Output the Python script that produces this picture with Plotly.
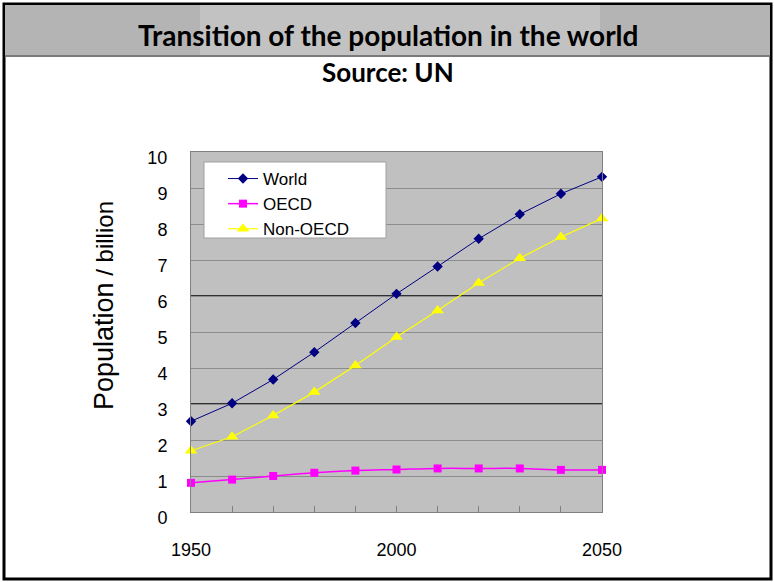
import plotly.graph_objects as go

years = [1950, 1960, 1970, 1980, 1990, 2000, 2010, 2020, 2030, 2040, 2050]
world = [2.52, 3.02, 3.68, 4.44, 5.25, 6.06, 6.82, 7.59, 8.27, 8.84, 9.31]
oecd = [0.81, 0.90, 1.00, 1.09, 1.15, 1.18, 1.21, 1.21, 1.21, 1.17, 1.17]
non_oecd = [1.70, 2.09, 2.68, 3.33, 4.07, 4.86, 5.60, 6.36, 7.05, 7.64, 8.15]
y_ticks = list(range(0, 11))
x_labels = {1950: "1950", 2000: "2000", 2050: "2050"}

W, H = 774, 582
L, R, T, B = 191, 172, 152, 70
PW, PH = W - L - R, H - T - B


def px(x):
    return (x - L) / PW


def py(y):
    return (H - B - y) / PH


fig = go.Figure()
fig.add_trace(go.Scatter(x=years, y=world, name="World", mode="lines+markers",
                         line=dict(color="#000080", width=1),
                         marker=dict(symbol="diamond", size=8, color="#000080"),
                         cliponaxis=False))
fig.add_trace(go.Scatter(x=years, y=oecd, name="OECD", mode="lines+markers",
                         line=dict(color="#ff00ff", width=1.5, shape="spline"),
                         marker=dict(symbol="square", size=8, color="#ff00ff"),
                         cliponaxis=False))
fig.add_trace(go.Scatter(x=years, y=non_oecd, name="Non-OECD", mode="lines+markers",
                         line=dict(color="#ffff00", width=1.2),
                         marker=dict(symbol="triangle-up", size=11, color="#ffff00"),
                         cliponaxis=False))

shapes = []
# outer frame
shapes.append(dict(type="rect", xref="paper", yref="paper",
                   x0=px(4), x1=px(771), y0=py(4), y1=py(579),
                   line=dict(color="#000000", width=3), fillcolor="rgba(0,0,0,0)", layer="below"))
# header band
shapes.append(dict(type="rect", xref="paper", yref="paper",
                   x0=px(5), x1=px(770), y0=py(5), y1=py(56),
                   line=dict(width=0), fillcolor="#b4b4b4", layer="below"))
shapes.append(dict(type="rect", xref="paper", yref="paper",
                   x0=px(200), x1=px(600), y0=py(5), y1=py(56),
                   line=dict(width=0), fillcolor="#c2c2c2", layer="below"))
shapes.append(dict(type="line", xref="paper", yref="paper",
                   x0=px(5), x1=px(770), y0=py(56), y1=py(56),
                   line=dict(color="#7a7a7a", width=2), layer="below"))
# black gridlines at 3 and 6
for v in (3, 6):
    shapes.append(dict(type="line", xref="paper", yref="y", x0=0, x1=1, y0=v, y1=v,
                       line=dict(color="#000000", width=1.3), layer="below"))
# legend box
shapes.append(dict(type="rect", xref="paper", yref="paper",
                   x0=px(204), x1=px(386), y0=py(162), y1=py(238),
                   line=dict(color="#a0a0a0", width=1), fillcolor="#ffffff", layer="above"))

annotations = [
    dict(text="<b>Transition of the population in the world</b>", xref="paper", yref="paper",
         x=px(388), y=py(35), xanchor="center", yanchor="middle", showarrow=False,
         font=dict(family="Lato", size=28, color="#000000")),
    dict(text="<b>Source: UN</b>", xref="paper", yref="paper",
         x=px(388), y=py(72), xanchor="center", yanchor="middle", showarrow=False,
         font=dict(family="Lato", size=26, color="#000000")),
    dict(text="Population<span style='font-size:24px'> / billion</span>", xref="paper", yref="paper",
         x=px(104), y=py(306), xanchor="center", yanchor="middle", showarrow=False, textangle=-90,
         font=dict(family="Liberation Sans", size=27, color="#000000")),
]

fig.update_layout(
    width=W, height=H,
    margin=dict(l=L, r=R, t=T, b=B),
    paper_bgcolor="#ffffff",
    plot_bgcolor="#c0c0c0",
    shapes=shapes,
    annotations=annotations,
    showlegend=True,
    legend=dict(x=px(223), y=py(161), xanchor="left", yanchor="top",
                bgcolor="rgba(0,0,0,0)", font=dict(family="Liberation Sans", size=17, color="#000000"),
                tracegroupgap=0, itemwidth=30),
    font=dict(family="Liberation Sans", size=17, color="#000000"),
)
fig.update_xaxes(range=[1950, 2050], tickmode="array", tickvals=years,
                 ticktext=[x_labels.get(y, "") for y in years],
                 ticks="inside", ticklen=6, tickcolor="#808080",
                 showgrid=False, zeroline=False,
                 showline=True, linecolor="#808080", linewidth=1, mirror=True,
                 ticklabelstandoff=21, tickfont=dict(size=18))
fig.update_yaxes(range=[0, 10], tickmode="array", tickvals=y_ticks,
                 ticks="", showgrid=True, gridcolor="#8c8c8c", gridwidth=1,
                 zeroline=False, showline=True, linecolor="#808080", linewidth=1, mirror=True,
                 ticklabelstandoff=19, ticklabelshift=6, tickfont=dict(size=18))

fig.write_html("out.html", config={"displayModeBar": False},
               post_script="document.body.style.margin='0';")
